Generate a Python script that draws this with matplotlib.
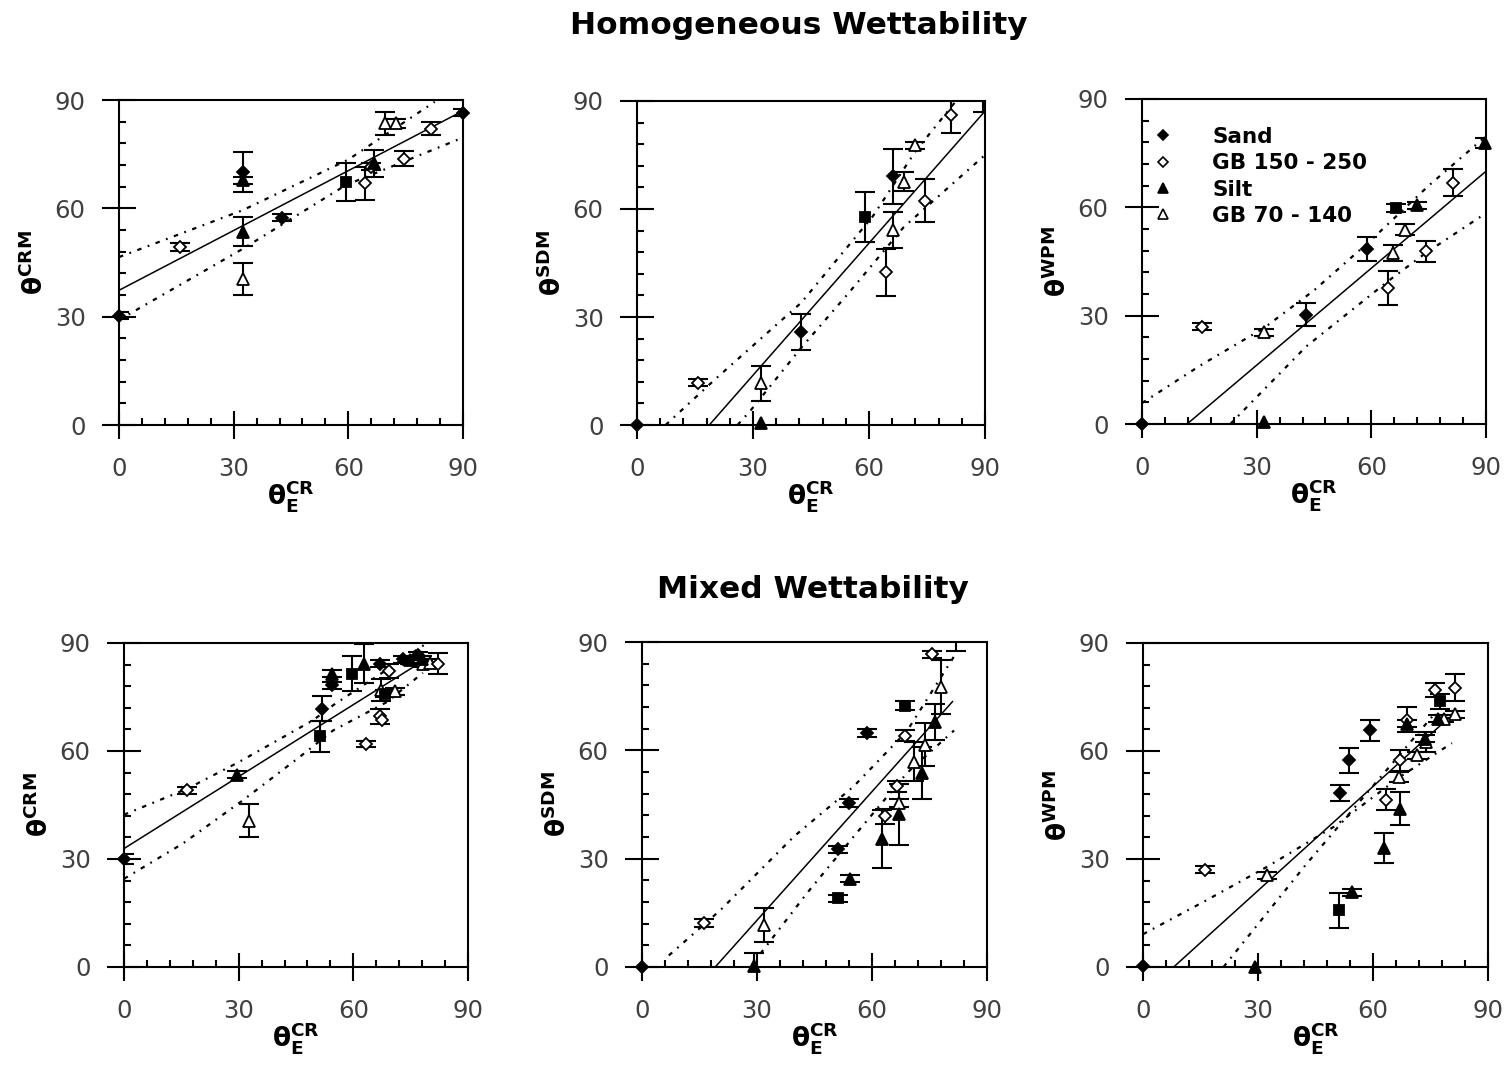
import matplotlib
matplotlib.use('Agg')
import matplotlib.pyplot as plt
from matplotlib.ticker import FixedLocator, MultipleLocator
from matplotlib.lines import Line2D

plt.rcParams['font.family'] = ['DejaVu Sans']
plt.rcParams['mathtext.fontset'] = 'custom'
plt.rcParams['mathtext.bf'] = 'DejaVu Sans:bold'
plt.rcParams['mathtext.rm'] = 'DejaVu Sans:bold'

# ---------------- data ----------------
SERIES = ['Sand', 'GB 150 - 250', 'Silt', 'GB 70 - 140']
TICKS = [0, 30, 60, 90]
TITLE_TOP = 'Homogeneous Wettability'
TITLE_BOT = 'Mixed Wettability'
YLABELS = ['CRM', 'SDM', 'WPM']

# points: (x, y, yerr)
# --- Homogeneous, CRM ---
hom_crm_sand = [(0, 30.3, 1), (32.4, 70.0, 5.5), (42.7, 57.4, 1), (90, 86.5, 1)]
hom_crm_sq = [(59.3, 67.3, 5.3)]
hom_crm_gb150 = [(16.0, 49.3, 1), (64.4, 66.9, 4.6), (65.8, 71.5, 1), (74.5, 73.8, 2.2), (81.7, 82.1, 1.8)]
hom_crm_silt = [(32.4, 67.8, 1), (32.4, 53.5, 4), (66.6, 72.5, 3.7)]
hom_crm_gb70 = [(32.4, 40.5, 4.5), (69.5, 83.5, 3.3), (72.5, 83.5, 1.2)]
hom_crm_fit = [(0, 37.3), (90, 87.0)]
hom_crm_upper = [(0, 46.5), (32.4, 59.5), (60, 73.5), (82.6, 89.5)]
hom_crm_lower = [(0, 29.1), (32.4, 48.8), (59.3, 66.4), (90, 79.6)]

# --- Homogeneous, SDM ---
hom_sdm_sand = [(0, 0, 0), (42.5, 25.7, 5), (66.2, 69.1, 7.7), (89.5, 92.5, 5.5)]
hom_sdm_sq = [(58.9, 57.7, 6.9)]
hom_sdm_gb150 = [(15.9, 11.8, 1), (64.4, 42.4, 6.6), (74.4, 62.3, 6), (81.2, 86.0, 5)]
hom_sdm_silt = [(32.1, 0.5, 0)]
hom_sdm_gb70 = [(32.1, 11.6, 4.8), (66.2, 54.3, 5), (69.0, 67.6, 2.7), (72.0, 77.7, 1)]
hom_sdm_fit = [(18.7, 0), (90, 87.2)]
hom_sdm_upper = [(7.4, 0), (20, 12.5), (42.5, 34), (61, 58), (72, 76), (82.5, 90)]
hom_sdm_lower = [(26, 0), (29.5, 4.2), (42.5, 21.5), (55, 37), (69, 55), (90, 75)]

# --- Homogeneous, WPM ---
hom_wpm_sand = [(0, 0, 0), (42.9, 30.3, 3.1), (58.8, 48.5, 3.4)]
hom_wpm_sq = [(66.5, 59.8, 1)]
hom_wpm_gb150 = [(15.7, 26.9, 1), (64.3, 37.7, 4.8), (74.3, 47.8, 3), (81.4, 66.8, 3.7)]
hom_wpm_silt = [(32.0, 0.5, 0), (71.9, 60.6, 1), (89.7, 77.8, 1.5)]
hom_wpm_gb70 = [(31.8, 25.4, 1), (65.6, 47.4, 2.3), (68.8, 53.8, 1.5)]
hom_wpm_fit = [(11.8, 0), (90, 70.0)]
hom_wpm_upper = [(0, 5.8), (15.7, 16.5), (31.8, 26.5), (45, 37), (60, 51), (75, 66), (90, 79.7)]
hom_wpm_lower = [(23.1, 0), (43, 21.5), (64.3, 39.5), (74.3, 47.4), (90, 58.4)]

# --- Mixed, CRM ---
mix_crm_sand = [(0, 30.1, 1.4), (51.9, 71.8, 3.5), (54.4, 78.2, 1), (66.9, 84.3, 1), (73.0, 85.5, 1), (76.9, 86.6, 1)]
mix_crm_sq = [(51.2, 64.1, 4.3), (59.6, 81.5, 4.8), (68.4, 75.9, 1)]
mix_crm_gb150 = [(16.5, 49.1, 1), (63.4, 62.0, 0.8), (66.9, 69.6, 2), (67.6, 68.5, 0), (69.3, 82.2, 2), (82.1, 84.3, 2.8)]
mix_crm_silt = [(29.6, 53.4, 1), (54.4, 81.5, 1), (62.9, 84.3, 5.5), (74.7, 85.2, 1), (78.0, 85.5, 1)]
mix_crm_gb70 = [(32.6, 40.6, 4.6), (67.3, 76.9, 3), (71.0, 76.6, 1), (78.2, 84.3, 1), (80.0, 84.5, 1)]
mix_crm_fit = [(0, 32.9), (78.2, 85.0)]
mix_crm_upper = [(0, 42.3), (16.5, 49.5), (30, 56.9), (49.4, 68.5), (54.7, 72.7), (79.3, 90)]
mix_crm_lower = [(0, 24.5), (15.4, 34.3), (31.1, 46.3), (45.9, 58.3), (54.7, 65.7), (68.6, 73.5), (78.2, 81.7)]

# --- Mixed, SDM ---
mix_sdm_sand = [(0, 0, 0), (51.0, 32.6, 1), (53.9, 45.4, 1), (58.7, 64.8, 1)]
mix_sdm_sq = [(51.0, 19.0, 1), (68.7, 72.4, 1.2)]
mix_sdm_gb150 = [(16.1, 12.2, 1), (63.3, 41.7, 2), (66.5, 50.0, 1.5), (68.7, 64.1, 1.5), (75.7, 86.6, 1), (82.0, 92.5, 5)]
mix_sdm_silt = [(29.3, 0.2, 3.7), (54.2, 24.5, 1), (62.6, 35.4, 8.1), (67.0, 42.3, 8.5), (73.0, 53.7, 7.1), (76.5, 67.8, 5)]
mix_sdm_gb70 = [(31.7, 11.6, 4.8), (67.0, 45.4, 1), (70.9, 56.9, 5.3), (73.7, 61.6, 6), (78.0, 77.5, 7.4)]
mix_sdm_fit = [(19.1, 0), (81, 73.5)]
mix_sdm_upper = [(7, 3.2), (20.4, 15.7), (39.6, 36.1), (55.2, 50), (69.1, 65.3), (81.4, 86)]
mix_sdm_lower = [(30.9, 3.7), (43, 20.4), (55.2, 36.1), (69.1, 53.7), (81.4, 65.5)]

# --- Mixed, WPM ---
mix_wpm_sand = [(0, 0.2, 0), (51.4, 48.3, 2.2), (53.8, 57.4, 3.5), (59.2, 65.7, 3)]
mix_wpm_sq = [(51.0, 15.7, 4.9), (77.6, 73.8, 2)]
mix_wpm_gb150 = [(16.2, 27.0, 1), (63.5, 46.5, 3), (67.0, 57.4, 2.9), (68.9, 68.7, 3.5), (76.1, 76.9, 2), (81.3, 77.6, 3.8)]
mix_wpm_silt = [(29.3, 0, 0), (54.4, 20.8, 1), (62.8, 33.1, 4.2), (67.0, 44.0, 4.5), (68.9, 67.6, 1), (73.5, 63.4, 1), (77.0, 69.0, 1)]
mix_wpm_gb70 = [(32.3, 25.5, 1), (66.8, 52.8, 1.5), (71.4, 58.8, 1), (73.8, 62.5, 2.8), (78.5, 69.0, 1), (81.3, 70.2, 1)]
mix_wpm_fit = [(8, 0), (78, 67.5)]
mix_wpm_upper = [(0, 9.1), (15.8, 18.1), (32.3, 27.8), (49.7, 38.9), (67, 52.8), (80.6, 62.2)]
mix_wpm_lower = [(21, 0), (42.7, 28.7), (76.2, 70.5)]

# --------------- layout ---------------
W, H = 1509, 1080
AX_PX = [  # left, right, top, bottom in pixels
    (119, 463, 100, 425), (637, 985, 101, 425), (1142, 1486, 99, 424),
    (124, 468, 643, 967), (642, 987, 642, 967), (1143, 1488, 643, 967),
]

PANELS = [
    (hom_crm_sand, hom_crm_sq, hom_crm_gb150, hom_crm_silt, hom_crm_gb70, hom_crm_fit, hom_crm_upper, hom_crm_lower),
    (hom_sdm_sand, hom_sdm_sq, hom_sdm_gb150, hom_sdm_silt, hom_sdm_gb70, hom_sdm_fit, hom_sdm_upper, hom_sdm_lower),
    (hom_wpm_sand, hom_wpm_sq, hom_wpm_gb150, hom_wpm_silt, hom_wpm_gb70, hom_wpm_fit, hom_wpm_upper, hom_wpm_lower),
    (mix_crm_sand, mix_crm_sq, mix_crm_gb150, mix_crm_silt, mix_crm_gb70, mix_crm_fit, mix_crm_upper, mix_crm_lower),
    (mix_sdm_sand, mix_sdm_sq, mix_sdm_gb150, mix_sdm_silt, mix_sdm_gb70, mix_sdm_fit, mix_sdm_upper, mix_sdm_lower),
    (mix_wpm_sand, mix_wpm_sq, mix_wpm_gb150, mix_wpm_silt, mix_wpm_gb70, mix_wpm_fit, mix_wpm_upper, mix_wpm_lower),
]

STYLES = {  # marker, size, face
    'sand': ('D', 6.5, 'black'),
    'sq': ('s', 6.5, 'black'),
    'gb150': ('D', 6.0, 'white'),
    'silt': ('^', 8.5, 'black'),
    'gb70': ('^', 8.5, 'white'),
}
DOT_STYLE = (0, (2.0, 3.0, 0.8, 3.0))

fig = plt.figure(figsize=(W / 100, H / 100), dpi=100)


def draw_series(ax, pts, key):
    marker, ms, face = STYLES[key]
    xs = [p[0] for p in pts]
    ys = [p[1] for p in pts]
    es = [p[2] for p in pts]
    ex = [x for x, e in zip(xs, es) if e > 0]
    ey = [y for y, e in zip(ys, es) if e > 0]
    ee = [e for e in es if e > 0]
    if ex:
        ax.errorbar(ex, ey, yerr=ee, fmt='none', ecolor='black', elinewidth=1.5,
                    capsize=7, capthick=1.5, zorder=3)
    lo, hi = ax.get_ylim()
    inx = [x for x, y in zip(xs, ys) if lo <= y <= hi]
    iny = [y for y in ys if lo <= y <= hi]
    ax.plot(inx, iny, ls='none', marker=marker, ms=ms, mfc=face, mec='black',
            mew=1.3, zorder=4, clip_on=False)


for i, (pos, data) in enumerate(zip(AX_PX, PANELS)):
    l, r, t, b = pos
    ax = fig.add_axes([l / W, 1 - b / H, (r - l) / W, (b - t) / H])
    ax.set_xlim(0, 90)
    ax.set_ylim(0, 90)
    sand, sq, gb150, silt, gb70, fit, upper, lower = data

    ax.plot([p[0] for p in fit], [p[1] for p in fit], color='black', lw=1.1, zorder=2)
    for band in (upper, lower):
        ax.plot([p[0] for p in band], [p[1] for p in band], color='black', lw=1.6,
                linestyle=DOT_STYLE, zorder=2)

    draw_series(ax, gb70, 'gb70')
    draw_series(ax, gb150, 'gb150')
    draw_series(ax, silt, 'silt')
    draw_series(ax, sq, 'sq')
    draw_series(ax, sand, 'sand')

    ax.xaxis.set_major_locator(FixedLocator(TICKS))
    ax.yaxis.set_major_locator(FixedLocator(TICKS))
    ax.xaxis.set_minor_locator(MultipleLocator(6))
    ax.yaxis.set_minor_locator(MultipleLocator(6))
    ax.tick_params(axis='x', which='major', direction='inout', length=20, width=1.5,
                   pad=13, labelsize=17.5, labelcolor='#404040')
    ax.tick_params(axis='y', which='major', direction='inout', length=24, width=1.5,
                   pad=12, labelsize=17.5, labelcolor='#404040')
    ax.tick_params(which='minor', direction='in', length=5, width=1.5)
    for s in ax.spines.values():
        s.set_linewidth(1.5)

    ax.set_xlabel('θ${}_{\\mathbf{E}}^{\\mathbf{CR}}$', fontsize=19, fontweight='bold',
                  labelpad=-2)
    ax.set_ylabel('θ$^{\\mathbf{%s}}$' % YLABELS[i % 3], fontsize=19, fontweight='bold',
                  labelpad=4)

    if i == 2:
        handles = [
            Line2D([], [], ls='none', marker=STYLES[k][0], ms=STYLES[k][1] * 0.85,
                   mfc=STYLES[k][2], mec='black', mew=1.2)
            for k in ('sand', 'gb150', 'silt', 'gb70')
        ]
        ax.legend(handles, SERIES, loc='upper left', bbox_to_anchor=(0.029, 0.915),
                  frameon=False, borderpad=0, borderaxespad=0, handlelength=1.0,
                  handletextpad=1.8, labelspacing=0.3,
                  prop={'weight': 'bold', 'size': 15.5})

fig.text(798.5 / W, 1 - 25 / H, TITLE_TOP, ha='center', va='center', fontsize=22.5,
         fontweight='bold')
fig.text(813 / W, 1 - 590 / H, TITLE_BOT, ha='center', va='center', fontsize=22.5,
         fontweight='bold')

fig.savefig('out.png', dpi=100)
